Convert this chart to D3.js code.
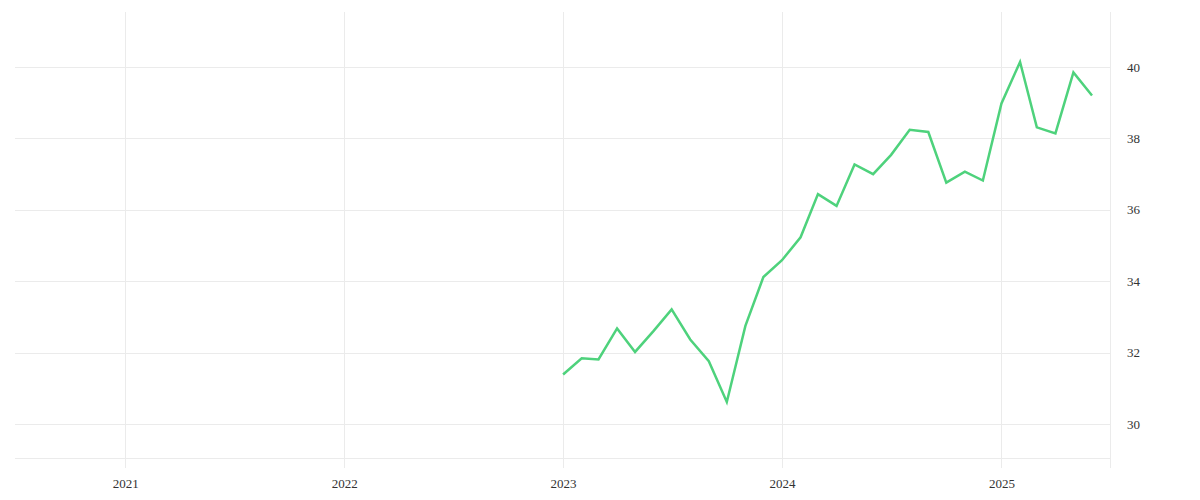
<!DOCTYPE html>
<html>
<head>
<meta charset="utf-8">
<script src="https://cdn.jsdelivr.net/npm/d3@7"></script>
<style>
  html, body { margin: 0; padding: 0; background: #ffffff; }
  svg { display: block; }
  .tick text { font-family: "Liberation Serif", serif; font-size: 13px; fill: #333333; }
</style>
</head>
<body>
<svg id="chart" width="1200" height="500"></svg>
<script>
const months = [
  "2023-01","2023-02","2023-03","2023-04","2023-05","2023-06","2023-07","2023-08","2023-09","2023-10","2023-11","2023-12",
  "2024-01","2024-02","2024-03","2024-04","2024-05","2024-06","2024-07","2024-08","2024-09","2024-10","2024-11","2024-12",
  "2025-01","2025-02","2025-03","2025-04","2025-05","2025-06"
];
const values = [
  31.39, 31.84, 31.81, 32.68, 32.02, 32.61, 33.21, 32.37, 31.76, 30.62, 32.75, 34.12,
  34.59, 35.23, 36.44, 36.11, 37.27, 37.00, 37.54, 38.24, 38.18, 36.76, 37.07, 36.82,
  38.98, 40.14, 38.31, 38.14, 39.85, 39.20
];
const xTickYears = [2021, 2022, 2023, 2024, 2025];
const yTickValues = [30, 32, 34, 36, 38, 40];
const xDomain = ["2020-07-01", "2025-07-01"];
const yDomain = [29.05, 41.54];

(function () {
  const parse = d3.timeParse("%Y-%m");
  const parseDay = d3.timeParse("%Y-%m-%d");
  const data = months.map((m, i) => ({ date: parse(m), value: values[i] }));

  const mLeft = 15, mRight = 1110, mTop = 12, mBottom = 458;
  const svg = d3.select("#chart");

  const x = d3.scaleTime().domain(xDomain.map(parseDay)).range([mLeft, mRight]);
  const y = d3.scaleLinear().domain(yDomain).range([mBottom, mTop]);

  const gridColor = "#ebebeb";

  // horizontal grid
  svg.append("g")
    .selectAll("line")
    .data(yTickValues)
    .join("line")
    .attr("x1", mLeft).attr("x2", mRight)
    .attr("y1", d => Math.round(y(d)) + 0.5).attr("y2", d => Math.round(y(d)) + 0.5)
    .attr("stroke", gridColor).attr("stroke-width", 1);

  // bottom border line
  svg.append("line")
    .attr("x1", mLeft).attr("x2", mRight).attr("y1", mBottom + 0.5).attr("y2", mBottom + 0.5)
    .attr("stroke", gridColor);

  // vertical grid (incl. tick extension)
  svg.append("g")
    .selectAll("line")
    .data(xTickYears)
    .join("line")
    .attr("x1", d => Math.round(x(new Date(d, 0, 1))) + 0.5)
    .attr("x2", d => Math.round(x(new Date(d, 0, 1))) + 0.5)
    .attr("y1", mTop).attr("y2", mBottom + 10)
    .attr("stroke", gridColor);

  // right border
  svg.append("line")
    .attr("x1", mRight + 0.5).attr("x2", mRight + 0.5).attr("y1", mTop).attr("y2", mBottom + 10)
    .attr("stroke", gridColor);

  // x axis labels
  const xAxis = d3.axisBottom(x)
    .tickValues(xTickYears.map(yv => new Date(yv, 0, 1)))
    .tickFormat(d3.timeFormat("%Y"))
    .tickSize(0).tickPadding(0);
  const gx = svg.append("g").attr("transform", `translate(0,${mBottom + 21})`).call(xAxis);
  gx.select(".domain").remove();

  // y axis labels
  const yAxis = d3.axisRight(y).tickValues(yTickValues).tickSize(0).tickPadding(0);
  const gy = svg.append("g").attr("transform", `translate(${mRight + 17},0)`).call(yAxis);
  gy.select(".domain").remove();

  // line
  const line = d3.line().x(d => x(d.date)).y(d => y(d.value));
  svg.append("path")
    .datum(data)
    .attr("fill", "none")
    .attr("stroke", "#4ed27c")
    .attr("stroke-width", 2.5)
    .attr("stroke-linejoin", "miter")
    .attr("d", line);
})();
</script>
</body>
</html>
